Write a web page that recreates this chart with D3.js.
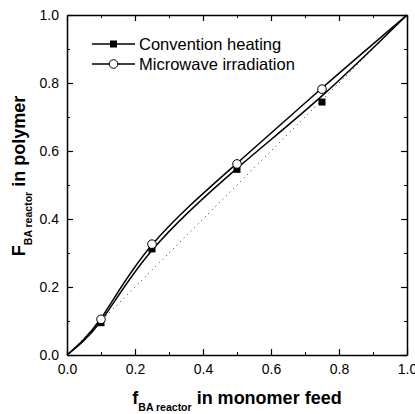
<!DOCTYPE html>
<html>
<head>
<meta charset="utf-8">
<script src="https://cdn.jsdelivr.net/npm/d3@7"></script>
<style>
  body { margin: 0; background: #fff; }
  text { font-family: "Liberation Sans", Arial, sans-serif; }
</style>
</head>
<body>
<div id="grafiek"></div>
<script>
// feed fractions of the measured samples
const feed = [0.1, 0.25, 0.5, 0.75]
const convention = [0.095, 0.312, 0.546, 0.744]
const microwave = [0.105, 0.326, 0.562, 0.782]

// fitted curves
const curveFeed = [0, 0.1, 0.25, 0.5, 0.75, 1]
const conventionFit = [0, 0.1, 0.308, 0.549, 0.762, 1]
const microwaveFit = [0, 0.108, 0.324, 0.564, 0.785, 1]

const diagonal = [0, 1]
const majorTicks = [0, 0.2, 0.4, 0.6, 0.8, 1.0]
const minorTicks = [0.1, 0.3, 0.5, 0.7, 0.9]

const MARGIN = {top: 15, left: 67, right: 8, bottom: 59}
const W = 415, H = 414
const WIDTH = W - MARGIN.left - MARGIN.right
const HEIGHT = H - MARGIN.top - MARGIN.bottom

const svg = d3.select('#grafiek').append('svg')
  .attr('width', W).attr('height', H)

const g = svg.append('g')
  .attr('transform', `translate(${MARGIN.left}, ${MARGIN.top})`)

const x = d3.scaleLinear().domain([0, 1]).range([0, WIDTH])
const y = d3.scaleLinear().domain([0, 1]).range([HEIGHT, 0])

// dotted y = x line
g.append('path')
  .datum(diagonal)
  .attr('d', d3.line().x(d => x(d)).y(d => y(d)))
  .attr('fill', 'none')
  .attr('stroke', '#333')
  .attr('stroke-width', 1)
  .attr('stroke-dasharray', '1 4')

const line = d3.line()
  .x(d => x(d[0]))
  .y(d => y(d[1]))
  .curve(d3.curveNatural)

g.append('path')
  .datum(curveFeed.map((f, i) => [f, conventionFit[i]]))
  .attr('d', line)
  .attr('fill', 'none').attr('stroke', '#000').attr('stroke-width', 1.5)

g.append('path')
  .datum(curveFeed.map((f, i) => [f, microwaveFit[i]]))
  .attr('d', line)
  .attr('fill', 'none').attr('stroke', '#000').attr('stroke-width', 1.5)

// markers
g.selectAll('.sq')
  .data(feed.map((f, i) => [f, convention[i]]))
  .join('rect')
  .attr('x', d => x(d[0]) - 3.5).attr('y', d => y(d[1]) - 3.5)
  .attr('width', 7).attr('height', 7)
  .attr('fill', '#000')

g.selectAll('.ci')
  .data(feed.map((f, i) => [f, microwave[i]]))
  .join('circle')
  .attr('cx', d => x(d[0])).attr('cy', d => y(d[1]))
  .attr('r', 4.3)
  .attr('fill', '#fff').attr('stroke', '#000').attr('stroke-width', 1)

// axes, ticks inward on all four sides
const axisStyle = (sel) => {
  sel.select('.domain').attr('stroke-width', 1.5)
  sel.selectAll('.tick line').attr('stroke-width', 1.2)
}

g.append('g').attr('transform', `translate(0, ${HEIGHT})`)
  .call(d3.axisBottom(x).tickValues(majorTicks).tickSize(-6).tickSizeOuter(0).tickPadding(9).tickFormat(d3.format('.1f')))
  .call(axisStyle)
  .selectAll('text').attr('font-size', 14).attr('fill', '#000')

g.append('g')
  .call(d3.axisLeft(y).tickValues(majorTicks).tickSize(-6).tickSizeOuter(0).tickPadding(8).tickFormat(d3.format('.1f')))
  .call(axisStyle)
  .selectAll('text').attr('font-size', 14).attr('fill', '#000')

g.append('g')
  .call(d3.axisTop(x).tickValues(majorTicks).tickSize(-6).tickSizeOuter(0).tickFormat(''))
  .call(axisStyle)

g.append('g').attr('transform', `translate(${WIDTH}, 0)`)
  .call(d3.axisRight(y).tickValues(majorTicks).tickSize(-6).tickSizeOuter(0).tickFormat(''))
  .call(axisStyle)

// minor ticks
g.append('g').attr('transform', `translate(0, ${HEIGHT})`)
  .call(d3.axisBottom(x).tickValues(minorTicks).tickSize(-3).tickFormat(''))
  .call(s => s.select('.domain').remove())
g.append('g')
  .call(d3.axisTop(x).tickValues(minorTicks).tickSize(-3).tickFormat(''))
  .call(s => s.select('.domain').remove())
g.append('g')
  .call(d3.axisLeft(y).tickValues(minorTicks).tickSize(-3).tickFormat(''))
  .call(s => s.select('.domain').remove())
g.append('g').attr('transform', `translate(${WIDTH}, 0)`)
  .call(d3.axisRight(y).tickValues(minorTicks).tickSize(-3).tickFormat(''))
  .call(s => s.select('.domain').remove())

// axis titles
const xt = svg.append('text')
  .attr('x', MARGIN.left + WIDTH / 2).attr('y', 404)
  .attr('text-anchor', 'middle')
  .attr('font-weight', 'bold').attr('font-size', 18)
xt.append('tspan').text('f')
xt.append('tspan').attr('font-size', 10.5).attr('dy', 7).text('BA reactor')
xt.append('tspan').attr('dy', -7).text(' in monomer feed')

const yt = svg.append('text')
  .attr('transform', `translate(25, 176) rotate(-90)`)
  .attr('text-anchor', 'middle')
  .attr('font-weight', 'bold').attr('font-size', 18)
yt.append('tspan').text('F')
yt.append('tspan').attr('font-size', 10.5).attr('dy', 7).text('BA reactor')
yt.append('tspan').attr('dy', -7).text(' in polymer')

// legend
const legend = [
  {name: 'Convention heating', shape: 'square'},
  {name: 'Microwave irradiation', shape: 'circle'}
]
const lg = svg.append('g').attr('transform', 'translate(92, 44)')
legend.forEach((d, i) => {
  const row = lg.append('g').attr('transform', `translate(0, ${i * 20})`)
  row.append('line').attr('x1', 0).attr('x2', 43).attr('stroke', '#000').attr('stroke-width', 1.5)
  if (d.shape === 'square') {
    row.append('rect').attr('x', 21.5 - 3.5).attr('y', -3.5).attr('width', 7).attr('height', 7).attr('fill', '#000')
  } else {
    row.append('circle').attr('cx', 21.5).attr('r', 4.3).attr('fill', '#fff').attr('stroke', '#000')
  }
  row.append('text').attr('x', 47).attr('y', 5.5).attr('font-size', 16.5).text(d.name)
})
</script>
</body>
</html>
